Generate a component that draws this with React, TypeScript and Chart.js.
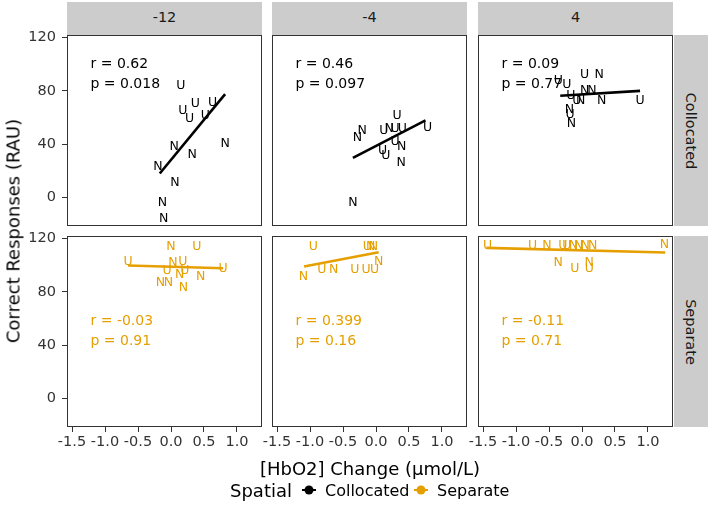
import React, { useEffect, useRef } from "react";
import { Chart, registerables } from "chart.js";
Chart.register(...registerables);

// ---------------- data ----------------
const columnLabels = ["-12", "-4", "4"];
const rowLabels = ["Collocated", "Separate"];
const xTickValues = [-1.5, -1.0, -0.5, 0.0, 0.5, 1.0];
const yTickValues = [0, 40, 80, 120];
const xTitle = "[HbO2] Change (\u00b5mol/L)";
const yTitle = "Correct Responses (RAU)";
const legendTitle = "Spatial";

// Collocated, -12
const collocM12X = [0.15, 0.37, 0.63, 0.18, 0.28, 0.52, 0.05, 0.32, 0.82, -0.2, 0.06, -0.13, -0.11];
const collocM12Y = [84.5, 71, 72, 66, 60, 62, 39, 33, 41.5, 24, 12, -3, -14.7];
const collocM12L = ["U", "U", "U", "U", "U", "U", "N", "N", "N", "N", "N", "N", "N"];
const collocM12FitX = [-0.17, 0.82];
const collocM12FitY = [18, 77.5];

// Collocated, -4
const collocM4X = [0.32, -0.21, -0.28, 0.12, 0.2, 0.29, 0.4, 0.78, 0.1, 0.15, 0.39, 0.38, -0.35, 0.29];
const collocM4Y = [62, 51.3, 45.4, 50.8, 52.8, 52.8, 52.8, 53.3, 35.9, 32.1, 38.9, 26.7, -3.2, 43];
const collocM4L = ["U", "N", "N", "U", "N", "U", "U", "U", "U", "U", "N", "N", "N", "U"];
const collocM4FitX = [-0.35, 0.75];
const collocM4FitY = [29.7, 57.8];

// Collocated, 4
const colloc4X = [0.04, 0.26, -0.36, -0.23, 0.04, 0.15, -0.17, -0.08, -0.02, 0.3, 0.88, -0.19, -0.18, -0.16];
const colloc4Y = [92.7, 92.7, 88.7, 85.7, 80.7, 80.7, 77, 73.8, 73.3, 73.8, 73.8, 67, 63.3, 56.3];
const colloc4L = ["U", "N", "U", "U", "N", "N", "U", "U", "N", "N", "U", "N", "U", "N"];
const colloc4FitX = [-0.33, 0.88];
const colloc4FitY = [76.3, 80];

// Separate, -12
const sepM12X = [0.0, 0.39, -0.65, 0.03, 0.18, 0.79, -0.06, 0.13, 0.21, 0.45, -0.16, -0.04, 0.19];
const sepM12Y = [114.8, 114.8, 103.5, 103, 103.5, 98, 96.5, 93.5, 96.5, 92.3, 88, 88, 84];
const sepM12L = ["N", "U", "U", "N", "U", "U", "U", "N", "U", "N", "N", "N", "N"];
const sepM12FitX = [-0.65, 0.79];
const sepM12FitY = [99.8, 97.7];

// Separate, -4
const sepM4X = [-0.95, -0.13, -0.08, -0.04, 0.04, -1.1, -0.82, -0.64, -0.32, -0.15, -0.02];
const sepM4Y = [114.8, 114.8, 114.8, 114.8, 103.5, 92.3, 97.3, 97.3, 97.3, 97.3, 97.3];
const sepM4L = ["U", "U", "N", "N", "N", "N", "U", "N", "U", "U", "U"];
const sepM4FitX = [-1.09, 0.04];
const sepM4FitY = [99, 109.7];

// Separate, 4
const sep4X = [-1.43, -0.75, -0.53, -0.29, -0.23, -0.13, -0.05, 0.05, 0.16, -0.36, -0.11, 0.11, 0.11, 1.25];
const sep4Y = [115.5, 115.5, 115.5, 115.5, 115.5, 115.5, 115.5, 115.5, 115.5, 103, 98, 103, 98, 116];
const sep4L = ["U", "U", "N", "U", "U", "N", "N", "N", "N", "N", "U", "N", "U", "N"];
const sep4FitX = [-1.45, 1.26];
const sep4FitY = [113, 109.5];

const rTexts = ["r = 0.62", "r = 0.46", "r = 0.09", "r = -0.03", "r = 0.399", "r = -0.11"];
const pTexts = ["p = 0.018", "p = 0.097", "p = 0.77", "p = 0.91", "p = 0.16", "p = 0.71"];
const rowColors = ["#000000", "#E69F00"];

// ---------------- layout / style ----------------
const FONT = "'DejaVu Sans', 'Liberation Sans', Arial, sans-serif";
const X_MIN = -1.576, X_MAX = 1.379, Y_MIN = -21.4, Y_MAX = 121.9;
const COL_LEFT = [67, 272, 478];
const ROW_TOP = [35, 236];
const PW = 195, PH = 191;
const AX_W = 67, AX_H = 40, PAD_T = 10, PAD_R = 10;
const CW = AX_W + PW + PAD_R, CH = PAD_T + PH + AX_H;
const ANN_X = -1.22;
const ANN_Y = [[101, 86], [59, 44]];

const panels = [
  { row: 0, col: 0, x: collocM12X, y: collocM12Y, lab: collocM12L, fx: collocM12FitX, fy: collocM12FitY },
  { row: 0, col: 1, x: collocM4X, y: collocM4Y, lab: collocM4L, fx: collocM4FitX, fy: collocM4FitY },
  { row: 0, col: 2, x: colloc4X, y: colloc4Y, lab: colloc4L, fx: colloc4FitX, fy: colloc4FitY },
  { row: 1, col: 0, x: sepM12X, y: sepM12Y, lab: sepM12L, fx: sepM12FitX, fy: sepM12FitY },
  { row: 1, col: 1, x: sepM4X, y: sepM4Y, lab: sepM4L, fx: sepM4FitX, fy: sepM4FitY },
  { row: 1, col: 2, x: sep4X, y: sep4Y, lab: sep4L, fx: sep4FitX, fy: sep4FitY },
];

function makeChart(canvas: HTMLCanvasElement, p: any, idx: number) {
  const color = rowColors[p.row];
  const showY = p.col === 0;
  const showX = p.row === 1;
  const panelPlugin = {
    id: "panelDraw" + idx,
    afterDatasetsDraw(chart: any) {
      const ctx = chart.ctx;
      const ca = chart.chartArea;
      const meta = chart.getDatasetMeta(0);
      ctx.save();
      ctx.beginPath();
      ctx.rect(ca.left, ca.top, ca.right - ca.left, ca.bottom - ca.top);
      ctx.clip();
      const ls = 12.5;
      ctx.font = `${ls}px ${FONT}`;
      ctx.fillStyle = color;
      ctx.textAlign = "center";
      ctx.textBaseline = "alphabetic";
      meta.data.forEach((el: any, i: number) => {
        ctx.fillText(p.lab[i], el.x, el.y + ls * 0.36);
      });
      const as = 14;
      ctx.font = `${as}px ${FONT}`;
      ctx.textAlign = "left";
      const xs = chart.scales.x, ys = chart.scales.y;
      const ax = xs.getPixelForValue(ANN_X);
      ctx.fillText(rTexts[idx], ax, ys.getPixelForValue(ANN_Y[p.row][0]) + as * 0.36);
      ctx.fillText(pTexts[idx], ax, ys.getPixelForValue(ANN_Y[p.row][1]) + as * 0.36);
      ctx.restore();
    },
    afterDraw(chart: any) {
      const ctx = chart.ctx;
      const ca = chart.chartArea;
      ctx.save();
      ctx.strokeStyle = "#333333";
      ctx.lineWidth = 1;
      ctx.strokeRect(ca.left + 0.5, ca.top + 0.5, ca.right - ca.left - 1, ca.bottom - ca.top - 1);
      ctx.restore();
    },
  };
  return new Chart(canvas, {
    type: "scatter",
    data: {
      datasets: [
        {
          data: p.x.map((v: number, i: number) => ({ x: v, y: p.y[i] })),
          pointRadius: 0,
          pointHoverRadius: 0,
          showLine: false,
          borderColor: color,
          backgroundColor: color,
        },
        {
          data: p.fx.map((v: number, i: number) => ({ x: v, y: p.fy[i] })),
          showLine: true,
          borderColor: color,
          borderWidth: 2.6,
          pointRadius: 0,
          pointHoverRadius: 0,
          fill: false,
          tension: 0,
        },
      ],
    },
    options: {
      animation: false,
      responsive: false,
      devicePixelRatio: 1,
      events: [],
      layout: { padding: { left: 0, top: PAD_T, right: PAD_R, bottom: 0 } },
      plugins: { legend: { display: false }, tooltip: { enabled: false } },
      scales: {
        x: {
          type: "linear",
          position: "bottom",
          min: X_MIN,
          max: X_MAX,
          afterBuildTicks: (s: any) => {
            s.ticks = xTickValues.map((v) => ({ value: v }));
          },
          afterFit: (s: any) => {
            s.height = AX_H;
            s.paddingLeft = 0;
            s.paddingRight = 0;
          },
          border: { display: false },
          grid: {
            display: showX,
            drawOnChartArea: false,
            drawTicks: true,
            tickLength: 5,
            tickColor: "#333333",
            tickWidth: 1,
          },
          ticks: {
            display: showX,
            autoSkip: false,
            maxRotation: 0,
            padding: 2,
            color: "#333333",
            font: { family: FONT, size: 14.5 },
            callback: (v: any) => Number(v).toFixed(1),
          },
        },
        y: {
          type: "linear",
          position: "left",
          min: Y_MIN,
          max: Y_MAX,
          afterBuildTicks: (s: any) => {
            s.ticks = yTickValues.map((v) => ({ value: v }));
          },
          afterFit: (s: any) => {
            s.width = AX_W;
            s.paddingTop = 0;
            s.paddingBottom = 0;
          },
          border: { display: false },
          grid: {
            display: showY,
            drawOnChartArea: false,
            drawTicks: true,
            tickLength: 5,
            tickColor: "#333333",
            tickWidth: 1,
          },
          ticks: {
            display: showY,
            padding: 6,
            color: "#333333",
            font: { family: FONT, size: 14.5 },
            callback: (v: any) => String(v),
          },
        },
      },
    } as any,
    plugins: [panelPlugin],
  });
}

function Panel({ p, idx }: { p: any; idx: number }) {
  const ref = useRef<HTMLCanvasElement>(null);
  useEffect(() => {
    if (!ref.current) return;
    const chart = makeChart(ref.current, p, idx);
    return () => chart.destroy();
  }, []);
  return (
    <canvas
      ref={ref}
      width={CW}
      height={CH}
      style={{
        position: "absolute",
        left: COL_LEFT[p.col] - AX_W,
        top: ROW_TOP[p.row] - PAD_T,
        width: CW,
        height: CH,
      }}
    />
  );
}

const textBase: React.CSSProperties = {
  position: "absolute",
  fontFamily: FONT,
  whiteSpace: "nowrap",
  color: "#000",
};

export default function App() {
  return (
    <div
      style={{
        position: "fixed",
        left: 0,
        top: 0,
        width: 708,
        height: 522,
        background: "#ffffff",
        overflow: "hidden",
      }}
    >
      {/* top strips */}
      {columnLabels.map((c, i) => (
        <div
          key={"cs" + i}
          style={{
            position: "absolute",
            left: COL_LEFT[i],
            top: 2,
            width: PW,
            height: 33,
            background: "#cccccc",
          }}
        >
          <span
            style={{
              ...textBase,
              left: "50%",
              top: 15,
              transform: "translate(-50%, -50%)",
              fontSize: 14.5,
              color: "#1a1a1a",
            }}
          >
            {c}
          </span>
        </div>
      ))}
      {/* right strips */}
      {rowLabels.map((r, i) => (
        <div
          key={"rs" + i}
          style={{
            position: "absolute",
            left: 674,
            top: ROW_TOP[i],
            width: 34,
            height: PH,
            background: "#cccccc",
          }}
        >
          <span
            style={{
              ...textBase,
              left: "50%",
              top: "50%",
              transform: "translate(-50%, -50%) rotate(90deg)",
              fontSize: 14.5,
              color: "#1a1a1a",
            }}
          >
            {r}
          </span>
        </div>
      ))}
      {panels.map((p, i) => (
        <Panel key={i} p={p} idx={i} />
      ))}
      {/* y title */}
      <span
        style={{
          ...textBase,
          left: 13,
          top: 231,
          transform: "translate(-50%, -50%) rotate(-90deg)",
          fontSize: 18,
        }}
      >
        {yTitle}
      </span>
      {/* x title */}
      <span
        style={{
          ...textBase,
          left: 370,
          top: 468,
          transform: "translate(-50%, -50%)",
          fontSize: 18,
        }}
      >
        {xTitle}
      </span>
      {/* legend */}
      <span style={{ ...textBase, left: 230, top: 490, transform: "translateY(-50%)", fontSize: 18 }}>
        {legendTitle}
      </span>
      <svg
        width={708}
        height={522}
        style={{ position: "absolute", left: 0, top: 0, pointerEvents: "none" }}
      >
        <line x1={302} y1={490} x2={316} y2={490} stroke={rowColors[0]} strokeWidth={2} />
        <circle cx={309} cy={490} r={4.5} fill={rowColors[0]} />
        <line x1={414} y1={490} x2={428} y2={490} stroke={rowColors[1]} strokeWidth={2} />
        <circle cx={421} cy={490} r={4.5} fill={rowColors[1]} />
      </svg>
      <span style={{ ...textBase, left: 325, top: 490, transform: "translateY(-50%)", fontSize: 16 }}>
        {rowLabels[0]}
      </span>
      <span style={{ ...textBase, left: 437, top: 490, transform: "translateY(-50%)", fontSize: 16 }}>
        {rowLabels[1]}
      </span>
    </div>
  );
}
